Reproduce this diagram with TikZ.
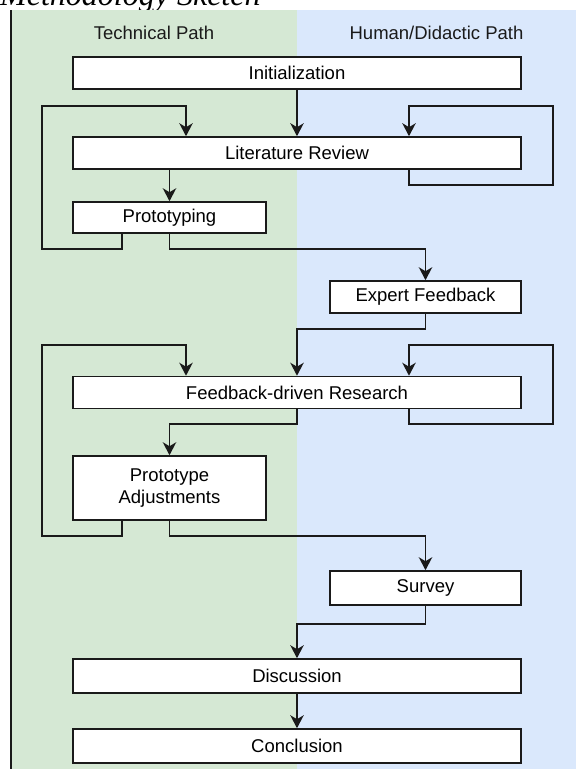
\documentclass[tikz,border=0pt]{standalone}
\usepackage{fontspec}
\setmainfont{Liberation Sans}
\newfontfamily\captionserif{Liberation Serif}
\usetikzlibrary{arrows.meta}
\definecolor{lanegreen}{HTML}{D5E8D4}
\definecolor{laneblue}{HTML}{DAE8FC}
\definecolor{ink}{HTML}{1A1A1A}
\tikzset{
  stepbox/.style={draw=ink, fill=white, line width=1.6pt, inner sep=0pt,
    align=center, font=\fontsize{18.5}{22}\selectfont},
  flow/.style={draw=ink, line width=1.6pt, line join=miter,
    -{Stealth[length=13pt,width=13.5pt,inset=4pt]}},
  lanetitle/.style={font=\fontsize{18.5}{22}\selectfont, text=ink}
}
\begin{document}
\begin{tikzpicture}[x=1pt,y=-1pt]
\useasboundingbox (0,0) rectangle (576,769);

% caption above the lanes
\node[anchor=base west, inner sep=0pt, font=\captionserif\itshape\fontsize{32}{36}\selectfont]
  (caption) at (0,5.5) {Methodology Sketch};

% swimlanes
\fill[lanegreen] (11,10) rectangle (297,769);
\fill[laneblue] (297,10) rectangle (576,769);
\draw[ink, line width=1.4pt] (11,10) -- (11,769);
\node[lanetitle] (laneT) at (154,33) {Technical Path};
\node[lanetitle] (laneH) at (436.5,33) {Human/Didactic Path};

% process steps
\node[stepbox, minimum width=448, minimum height=32] (init) at (297,73) {Initialization};
\node[stepbox, minimum width=448, minimum height=32] (lit) at (297,153) {Literature Review};
\node[stepbox, minimum width=193, minimum height=31] (proto) at (169.5,217.5) {Prototyping};
\node[stepbox, minimum width=191, minimum height=32] (expert) at (425.5,297) {Expert Feedback};
\node[stepbox, minimum width=448, minimum height=32] (fdr) at (297,392.5) {Feedback-driven Research};
\node[stepbox, minimum width=193, minimum height=64] (adj) at (169.5,488) {Prototype\\Adjustments};
\node[stepbox, minimum width=191, minimum height=34] (survey) at (425.5,588) {Survey};
\node[stepbox, minimum width=448, minimum height=34] (disc) at (297,676) {Discussion};
\node[stepbox, minimum width=448, minimum height=34] (concl) at (297,746) {Conclusion};

% routing columns and rows
\coordinate (cL) at (42,0);
\coordinate (cA) at (122,0);
\coordinate (cB) at (186,0);
\coordinate (cC) at (409,0);
\coordinate (cR) at (553,0);
\coordinate (rTop1) at (0,106);
\coordinate (rLit) at (0,185);
\coordinate (rProto) at (0,249);
\coordinate (rExp) at (0,329);
\coordinate (rTop2) at (0,345);
\coordinate (rFdr) at (0,424);
\coordinate (rAdj) at (0,536);
\coordinate (rSur) at (0,624);

% first round
\draw[flow] (init.south) -- (lit.north);
\draw[flow] (lit.south -| proto.north) -- (proto.north);
\draw[flow] (proto.south -| cA) -- (cA |- rProto) -- (cL |- rProto)
  -- (cL |- rTop1) -- (cB |- rTop1) -- (lit.north -| cB);
\draw[flow] (lit.south -| cC) -- (cC |- rLit) -- (cR |- rLit)
  -- (cR |- rTop1) -- (cC |- rTop1) -- (lit.north -| cC);
\draw[flow] (proto.south) -- (proto.south |- rProto) -- (expert.north |- rProto) -- (expert.north);

% second round
\draw[flow] (expert.south) -- (expert.south |- rExp) -- (fdr.north |- rExp) -- (fdr.north);
\draw[flow] (fdr.south -| cC) -- (cC |- rFdr) -- (cR |- rFdr)
  -- (cR |- rTop2) -- (cC |- rTop2) -- (fdr.north -| cC);
\draw[flow] (adj.south -| cA) -- (cA |- rAdj) -- (cL |- rAdj)
  -- (cL |- rTop2) -- (cB |- rTop2) -- (fdr.north -| cB);
\draw[flow] (fdr.south) -- (fdr.south |- rFdr) -- (adj.north |- rFdr) -- (adj.north);
\draw[flow] (adj.south) -- (adj.south |- rAdj) -- (survey.north |- rAdj) -- (survey.north);

% wrap-up
\draw[flow] (survey.south) -- (survey.south |- rSur) -- (disc.north |- rSur) -- (disc.north);
\draw[flow] (disc.south) -- (concl.north);
\end{tikzpicture}
\end{document}
